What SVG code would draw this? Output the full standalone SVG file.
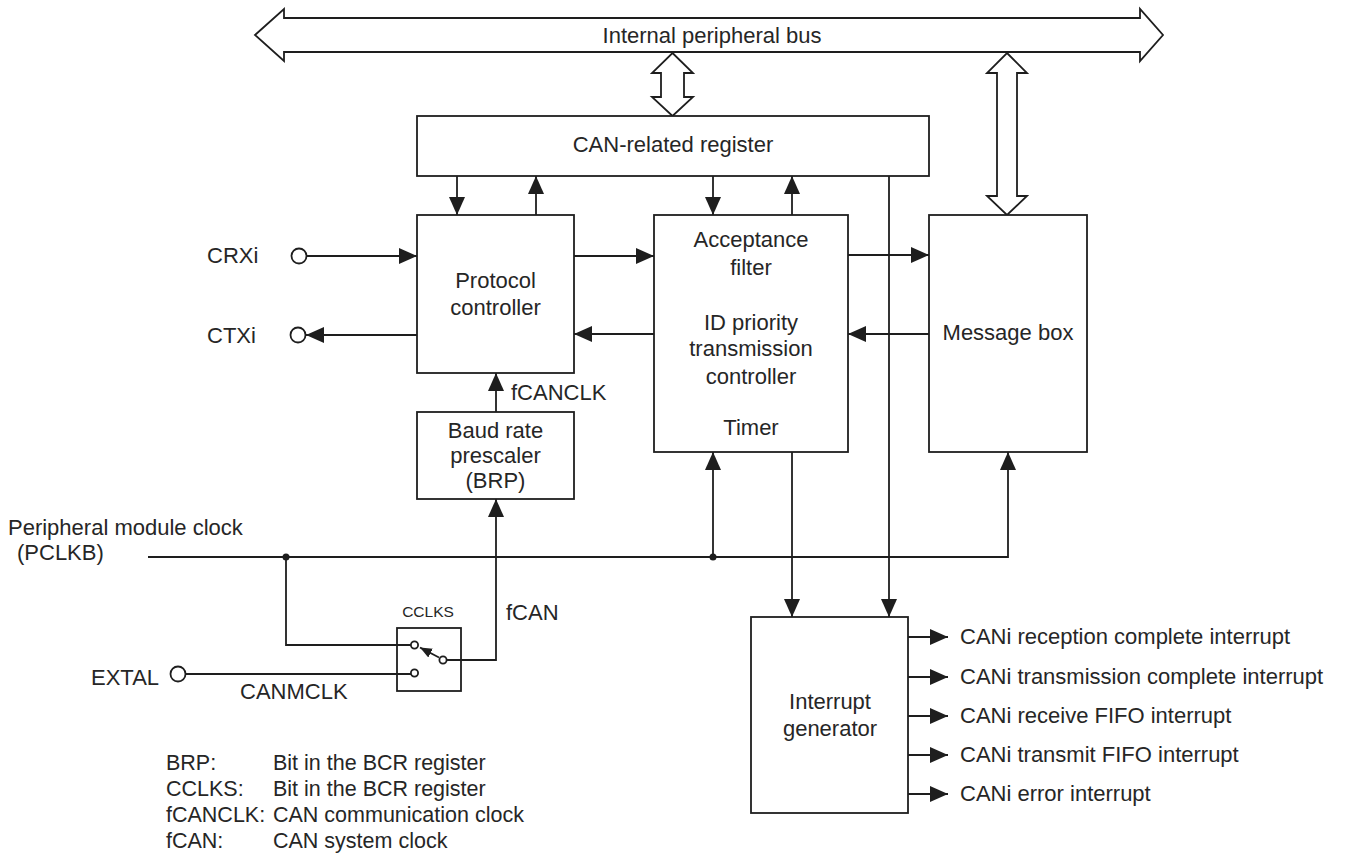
<svg xmlns="http://www.w3.org/2000/svg" width="1351" height="858" viewBox="0 0 1351 858">
<style>
.box{fill:#fff;stroke:#1e1e1e;stroke-width:1.8}
.ln{fill:none;stroke:#1e1e1e;stroke-width:1.8}
.t{font-family:"Liberation Sans",Arial,sans-serif;font-size:22px;fill:#262626}
.c{text-anchor:middle}
.lg{font-family:"Liberation Sans",Arial,sans-serif;font-size:21.5px;fill:#262626}
.sm{font-family:"Liberation Sans",Arial,sans-serif;font-size:15.5px;fill:#262626}
.pin{fill:#fff;stroke:#1e1e1e;stroke-width:1.8}
</style>
<defs>
<marker id="ah" viewBox="0 0 18 16" refX="18" refY="8" markerWidth="18" markerHeight="16" markerUnits="userSpaceOnUse" orient="auto">
<path d="M0,0 L18,8 L0,16 z" fill="#1e1e1e"/>
</marker>
<marker id="ahs" viewBox="0 0 12 10" refX="12" refY="5" markerWidth="12" markerHeight="10" markerUnits="userSpaceOnUse" orient="auto">
<path d="M0,0 L12,5 L0,10 z" fill="#1e1e1e"/>
</marker>
</defs>
<rect width="1351" height="858" fill="#fff"/>

<g id="bus">
<polygon class="box" points="255,35 284,9 284,18 1140,18 1140,9 1163,35 1140,61 1140,52 284,52 284,61"/>
<text class="t c" x="712" y="43">Internal peripheral bus</text>
</g>
<g id="bus-reg">
<polygon class="box" points="672.5,53 693,73 684,73 684,97 693,97 672.5,116 652,97 661,97 661,73 652,73"/>
</g>
<g id="bus-msg">
<polygon class="box" points="1007,53 1027,73 1017,73 1017,196 1027,196 1007,215 987,196 997,196 997,73 987,73"/>
</g>

<g id="can-register">
<rect class="box" x="417" y="116" width="512" height="60"/>
<text class="t c" x="673" y="152">CAN-related register</text>
</g>
<g id="protocol-controller">
<rect class="box" x="417" y="215" width="157" height="158"/>
<text class="t c" x="495.5" y="288">Protocol</text>
<text class="t c" x="495.5" y="315">controller</text>
</g>
<g id="baud-rate-prescaler">
<rect class="box" x="417" y="412" width="157" height="87"/>
<text class="t c" x="495.5" y="438">Baud rate</text>
<text class="t c" x="495.5" y="463">prescaler</text>
<text class="t c" x="495.5" y="488">(BRP)</text>
</g>
<g id="acceptance-filter">
<rect class="box" x="654" y="215" width="194" height="237"/>
<text class="t c" x="751" y="247">Acceptance</text>
<text class="t c" x="751" y="275">filter</text>
<text class="t c" x="751" y="330">ID priority</text>
<text class="t c" x="751" y="356">transmission</text>
<text class="t c" x="751" y="384">controller</text>
<text class="t c" x="751" y="435">Timer</text>
</g>
<g id="message-box">
<rect class="box" x="929" y="215" width="158" height="237"/>
<text class="t c" x="1008" y="340">Message box</text>
</g>
<g id="interrupt-generator">
<rect class="box" x="751" y="617" width="157" height="196"/>
<text class="t c" x="830" y="709">Interrupt</text>
<text class="t c" x="830" y="736">generator</text>
</g>
<g id="cclks-switch">
<text class="sm c" x="428" y="617">CCLKS</text>
<rect class="box" x="397" y="628" width="64" height="63"/>
<circle class="pin" cx="414.5" cy="645" r="3.6"/>
<circle class="pin" cx="414.5" cy="673" r="3.6"/>
<circle class="pin" cx="443" cy="660" r="3.6"/>
<line class="ln" x1="439" y1="657.5" x2="420" y2="647.5" marker-end="url(#ahs)"/>
</g>
<g id="crxi">
<circle class="pin" cx="299" cy="256" r="7.5"/>
<text class="t" x="207" y="263">CRXi</text>
</g>
<g id="ctxi">
<circle class="pin" cx="298" cy="335" r="7.5"/>
<text class="t" x="207" y="343">CTXi</text>
</g>
<g id="extal">
<circle class="pin" cx="178" cy="674" r="7.5"/>
<text class="t" x="91" y="685">EXTAL</text>
<text class="t" x="240" y="699">CANMCLK</text>
</g>
<g id="pclkb">
<text class="t" x="8" y="535">Peripheral module clock</text>
<text class="t" x="17" y="560">(PCLKB)</text>
</g>

<g id="connectors">
<line class="ln" x1="457" y1="176" x2="457" y2="215" marker-end="url(#ah)"/>
<line class="ln" x1="536" y1="215" x2="536" y2="176" marker-end="url(#ah)"/>
<line class="ln" x1="713" y1="176" x2="713" y2="215" marker-end="url(#ah)"/>
<line class="ln" x1="792" y1="215" x2="792" y2="176" marker-end="url(#ah)"/>
<line class="ln" x1="889" y1="176" x2="889" y2="617" marker-end="url(#ah)"/>
<line class="ln" x1="306.5" y1="256" x2="417" y2="256" marker-end="url(#ah)"/>
<line class="ln" x1="417" y1="335" x2="306" y2="335" marker-end="url(#ah)"/>
<line class="ln" x1="574" y1="256" x2="654" y2="256" marker-end="url(#ah)"/>
<line class="ln" x1="654" y1="334" x2="574" y2="334" marker-end="url(#ah)"/>
<line class="ln" x1="848" y1="255" x2="929" y2="255" marker-end="url(#ah)"/>
<line class="ln" x1="929" y1="334" x2="848" y2="334" marker-end="url(#ah)"/>
<line class="ln" x1="496" y1="412" x2="496" y2="373" marker-end="url(#ah)"/>
<text class="t" x="511" y="400">fCANCLK</text>
<path class="ln" d="M148,557 H1008 V452" marker-end="url(#ah)"/>
<line class="ln" x1="713" y1="557" x2="713" y2="452" marker-end="url(#ah)"/>
<circle cx="286" cy="557" r="3.5" fill="#1e1e1e"/>
<circle cx="713" cy="557" r="3.5" fill="#1e1e1e"/>
<line class="ln" x1="792" y1="452" x2="792" y2="617" marker-end="url(#ah)"/>
<path class="ln" d="M286,557 V645 H411"/>
<path class="ln" d="M185.5,674 H411"/>
<path class="ln" d="M446.6,660 H496 V499" marker-end="url(#ah)"/>
<text class="t" x="506" y="620">fCAN</text>
<line class="ln" x1="908" y1="637" x2="948" y2="637" marker-end="url(#ah)"/>
<line class="ln" x1="908" y1="677" x2="948" y2="677" marker-end="url(#ah)"/>
<line class="ln" x1="908" y1="716" x2="948" y2="716" marker-end="url(#ah)"/>
<line class="ln" x1="908" y1="755" x2="948" y2="755" marker-end="url(#ah)"/>
<line class="ln" x1="908" y1="794" x2="948" y2="794" marker-end="url(#ah)"/>
</g>

<g id="interrupt-labels">
<text class="t" x="960" y="644">CANi reception complete interrupt</text>
<text class="t" x="960" y="684">CANi transmission complete interrupt</text>
<text class="t" x="960" y="723">CANi receive FIFO interrupt</text>
<text class="t" x="960" y="762">CANi transmit FIFO interrupt</text>
<text class="t" x="960" y="801">CANi error interrupt</text>
</g>

<g id="legend">
<text class="lg" x="166" y="770">BRP:</text>
<text class="lg" x="273" y="770">Bit in the BCR register</text>
<text class="lg" x="166" y="796">CCLKS:</text>
<text class="lg" x="273" y="796">Bit in the BCR register</text>
<text class="lg" x="166" y="822">fCANCLK:</text>
<text class="lg" x="273" y="822">CAN communication clock</text>
<text class="lg" x="166" y="848">fCAN:</text>
<text class="lg" x="273" y="848">CAN system clock</text>
</g>
</svg>
